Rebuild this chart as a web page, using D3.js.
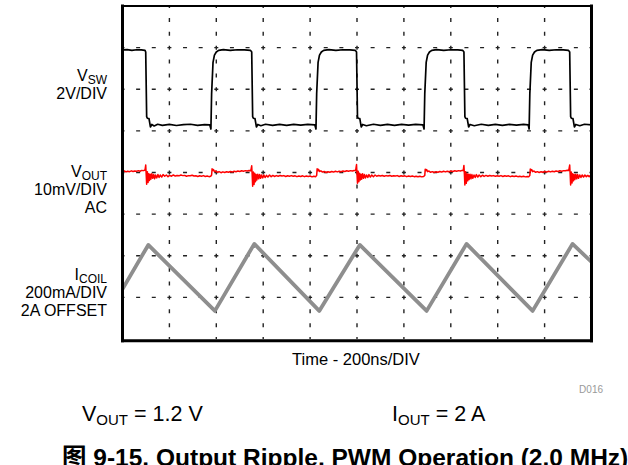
<!DOCTYPE html>
<html><head><meta charset="utf-8">
<script src="https://cdn.jsdelivr.net/npm/d3@7"></script>
<style>body{margin:0;background:#fff}svg{display:block}</style>
</head><body>
<script>
// ---- data ----
const timeGrid = [0, 200, 400, 600, 800, 1000, 1200, 1400, 1600, 1800, 2000]; // ns, 200ns/DIV
const divGrid = [0, 1, 2, 3, 4, 5, 6, 7, 8];
// VSW (V) vs time (ns)
const vswPoints = [
 [0,3.6],[20,3.62],[40,3.58],[60,3.61],[80,3.6],[96,3.58],
 [99,3.5],[103,0.4],[106,0.32],[113,0.3],[119,-0.1],[125,0.02],[135,-0.05],[150,0.03],[170,-0.02],[200,0.02],[230,-0.03],[260,0.01],[290,0.03],[320,-0.02],[350,0.01],[372,0.0],
 [377,-0.2],[380,1.5],[386,3.0],[392,3.35],[400,3.5],[410,3.58],[430,3.62],[460,3.58],[490,3.61],[520,3.6],[546,3.58],
 [551,3.5],[555,0.4],[558,0.32],[565,0.3],[571,-0.1],[577,0.02],[590,-0.04],[610,0.03],[640,-0.02],[670,0.02],[700,-0.02],[730,0.02],[760,-0.01],[790,0.02],[820,0.0],
 [825,-0.2],[828,1.5],[834,3.0],[840,3.35],[848,3.5],[858,3.58],[880,3.62],[910,3.58],[940,3.61],[970,3.6],[993,3.58],
 [998,3.5],[1002,0.4],[1005,0.32],[1012,0.3],[1018,-0.1],[1024,0.02],[1040,-0.04],[1070,0.03],[1100,-0.02],[1130,0.02],[1160,-0.02],[1190,0.02],[1220,-0.01],[1250,0.02],[1281,0.0],
 [1286,-0.2],[1289,1.5],[1295,3.0],[1301,3.35],[1309,3.5],[1319,3.58],[1340,3.62],[1370,3.58],[1400,3.61],[1430,3.6],[1451,3.58],
 [1456,3.5],[1460,0.4],[1463,0.32],[1470,0.3],[1476,-0.1],[1482,0.02],[1500,-0.04],[1530,0.03],[1560,-0.02],[1590,0.02],[1620,-0.02],[1650,0.02],[1680,-0.01],[1710,0.02],[1730,0.0],
 [1734,-0.2],[1737,1.5],[1743,3.0],[1749,3.35],[1757,3.5],[1767,3.58],[1790,3.62],[1820,3.58],[1850,3.61],[1880,3.6],[1902,3.58],
 [1907,3.5],[1911,0.4],[1914,0.32],[1921,0.3],[1927,-0.1],[1933,0.02],[1950,-0.04],[1970,0.03],[2000,0.0]
];
// VOUT AC ripple (mV) vs time (ns)
const voutPoints = [
 [0,0.2],[8,0.35],[15,0.15],[22,0.3],[30,0.2],[38,0.4],[45,0.25],[52,0.35],[60,0.3],[68,0.45],[75,0.3],[82,0.5],[90,0.45],[96,0.6],
 [99,1.8],[101,-0.5],[103,-2.8],[106,0.2],[109,-2.4],[112,-0.3],[115,-1.9],[118,-0.4],[121,-1.6],[125,-0.3],[129,-1.4],[133,-0.5],[137,-1.5],[141,-0.6],[146,-1.3],[151,-0.5],[156,-1.2],[161,-0.6],[167,-1.1],[173,-0.5],[180,-0.9],[187,-0.6],[194,-1.0],[201,-0.7],[209,-0.9],[217,-0.6],[225,-0.85],[233,-0.7],[241,-0.8],[249,-0.6],[257,-0.75],[265,-0.7],[273,-0.9],[281,-0.75],[289,-0.8],[297,-0.65],[305,-0.85],[313,-0.8],[321,-0.95],[329,-0.8],[337,-0.9],[345,-0.75],[353,-0.95],[361,-0.85],[369,-1.0],[376,-0.9],
 [380,-0.6],[382,0.9],[385,0.5],[388,0.7],[392,0.2],[398,0.35],[405,0.05],[412,0.2],[420,-0.05],[428,0.15],[436,0.0],[444,0.2],[452,0.05],[460,0.25],[468,0.1],[476,0.3],[484,0.2],[492,0.35],[500,0.25],[508,0.4],[516,0.3],[524,0.45],[532,0.35],[540,0.5],[547,0.4],
 [551,1.6],[553,-0.6],[555,-3.3],[558,0.1],[561,-2.9],[564,-0.2],[567,-2.2],[570,-0.5],[573,-1.8],[577,-0.4],[581,-1.5],[585,-0.5],[589,-1.4],[593,-0.6],[598,-1.3],[603,-0.6],[608,-1.2],[614,-0.7],[620,-1.1],[627,-0.6],[634,-1.0],[641,-0.7],[648,-0.95],[656,-0.75],[664,-0.9],[672,-0.7],[680,-0.85],[688,-0.75],[696,-0.95],[704,-0.8],[712,-0.9],[720,-0.75],[728,-0.9],[736,-0.8],[744,-1.0],[752,-0.85],[760,-0.95],[768,-0.8],[776,-1.0],[784,-0.85],[792,-0.95],[800,-0.85],[808,-1.05],[816,-0.9],[824,-1.0],
 [828,-0.7],[830,0.9],[833,0.4],[836,0.75],[840,0.25],[846,0.4],[853,0.1],[860,0.25],[868,0.0],[876,0.2],[884,0.05],[892,0.25],[900,0.1],[908,0.3],[916,0.15],[924,0.3],[932,0.2],[940,0.35],[948,0.25],[956,0.4],[964,0.3],[972,0.45],[980,0.35],[988,0.5],[994,0.45],
 [998,1.9],[1000,-0.4],[1002,-2.6],[1005,0.3],[1008,-2.2],[1011,-0.2],[1014,-1.8],[1017,-0.4],[1020,-1.6],[1024,-0.3],[1028,-1.4],[1032,-0.5],[1036,-1.3],[1041,-0.6],[1046,-1.2],[1051,-0.5],[1057,-1.1],[1063,-0.6],[1070,-1.0],[1077,-0.6],[1084,-0.9],[1092,-0.7],[1100,-0.85],[1108,-0.7],[1116,-0.9],[1124,-0.75],[1132,-0.85],[1140,-0.7],[1148,-0.9],[1156,-0.8],[1164,-0.85],[1172,-0.75],[1180,-0.95],[1188,-0.8],[1196,-0.9],[1204,-0.8],[1212,-1.0],[1220,-0.85],[1228,-0.95],[1236,-0.85],[1244,-1.0],[1252,-0.9],[1260,-1.0],[1268,-0.9],[1276,-1.05],[1284,-0.95],
 [1289,-0.7],[1291,0.8],[1294,0.45],[1297,0.7],[1301,0.2],[1307,0.35],[1314,0.05],[1321,0.2],[1329,0.0],[1337,0.2],[1345,0.05],[1353,0.25],[1361,0.1],[1369,0.3],[1377,0.15],[1385,0.3],[1393,0.2],[1401,0.35],[1409,0.25],[1417,0.4],[1425,0.3],[1433,0.45],[1441,0.35],[1448,0.5],[1453,0.45],
 [1456,1.7],[1458,-0.5],[1460,-3.0],[1463,0.2],[1466,-2.6],[1469,-0.3],[1472,-2.0],[1475,-0.4],[1478,-1.7],[1482,-0.4],[1486,-1.5],[1490,-0.5],[1494,-1.4],[1499,-0.6],[1504,-1.2],[1509,-0.5],[1515,-1.1],[1521,-0.6],[1528,-1.0],[1535,-0.65],[1542,-0.95],[1550,-0.7],[1558,-0.9],[1566,-0.7],[1574,-0.85],[1582,-0.75],[1590,-0.9],[1598,-0.8],[1606,-0.9],[1614,-0.75],[1622,-0.95],[1630,-0.8],[1638,-0.9],[1646,-0.8],[1654,-1.0],[1662,-0.85],[1670,-0.95],[1678,-0.85],[1686,-1.0],[1694,-0.9],[1702,-1.0],[1710,-0.9],[1718,-1.05],[1726,-0.95],[1733,-1.0],
 [1737,-0.7],[1739,0.85],[1742,0.45],[1745,0.7],[1749,0.2],[1755,0.35],[1762,0.05],[1769,0.2],[1777,0.0],[1785,0.2],[1793,0.05],[1801,0.25],[1809,0.1],[1817,0.3],[1825,0.15],[1833,0.3],[1841,0.2],[1849,0.35],[1857,0.25],[1865,0.4],[1873,0.3],[1881,0.45],[1889,0.4],[1897,0.55],[1903,0.5],
 [1907,1.8],[1909,-0.5],[1911,-3.0],[1914,0.1],[1917,-2.5],[1920,-0.3],[1923,-2.0],[1926,-0.5],[1929,-1.7],[1933,-0.4],[1937,-1.5],[1941,-0.5],[1945,-1.4],[1950,-0.6],[1955,-1.2],[1960,-0.6],[1966,-1.1],[1972,-0.6],[1978,-1.0],[1984,-0.7],[1990,-1.0],[1995,-0.75],[2000,-0.9]
];
// ICOIL (A) vs time (ns)
const icoilPoints = [
 [0,1.94],[110,2.152],[394,1.835],[562,2.157],[839,1.835],[1012,2.152],[1297,1.835],[1467,2.157],[1749,1.835],[1919,2.157],[2000,2.07]
];
const channelLabels = [
 {main: "V", sub: "SW", lines: ["2V/DIV"]},
 {main: "V", sub: "OUT", lines: ["10mV/DIV", "AC"]},
 {main: "I", sub: "COIL", lines: ["200mA/DIV", "2A OFFSET"]}
];
const axisTitle = "Time - 200ns/DIV";
const figId = "D016";
const conditions = [{main: "V", sub: "OUT", rest: " = 1.2 V"}, {main: "I", sub: "OUT", rest: " = 2 A"}];
const figTitle = "图 9-15. Output Ripple, PWM Operation (2.0 MHz)";

// ---- drawing ----
const W = 628, H = 465;
const FONT = "Arial, 'Liberation Sans', 'Noto Sans CJK SC', sans-serif";
const svg = d3.select("body").append("svg").attr("width", W).attr("height", H)
  .style("font-family", FONT);

const x = d3.scaleLinear().domain([0, 2000]).range([122.5, 591.5]);
const yDiv = d3.scaleLinear().domain([0, 8]).range([339, 6]);
// channel scales (value at screen bottom / top)
const yVsw = d3.scaleLinear().domain([-10.288, 5.712]).range([339, 6]);
const yVout = d3.scaleLinear().domain([-40, 40]).range([339, 6]);
const yIcoil = d3.scaleLinear().domain([1.7, 3.3]).range([339, 6]);

svg.append("clipPath").attr("id", "clip").append("rect")
  .attr("x", x(0)).attr("y", yDiv(8)).attr("width", x(2000) - x(0)).attr("height", yDiv(0) - yDiv(8));

// grid
const hPeriod = (x(200) - x(0)) / 3, vPeriod = (yDiv(0) - yDiv(1)) / 3;
const grid = svg.append("g").attr("stroke", "#222").attr("stroke-width", 1.4);
grid.selectAll("line.v").data(timeGrid.slice(1, -1)).join("line").attr("class", "v")
  .attr("x1", d => x(d)).attr("x2", d => x(d)).attr("y1", yDiv(8)).attr("y2", yDiv(0))
  .attr("stroke-dasharray", `4,${vPeriod - 4}`).attr("stroke-dashoffset", 2);
grid.selectAll("line.h").data(divGrid.slice(1, -1)).join("line").attr("class", "h")
  .attr("y1", d => yDiv(d)).attr("y2", d => yDiv(d)).attr("x1", x(0)).attr("x2", x(2000))
  .attr("stroke-dasharray", `4,${hPeriod - 4}`).attr("stroke-dashoffset", 2);

const traces = svg.append("g").attr("clip-path", "url(#clip)");
traces.append("path").datum(icoilPoints)
  .attr("d", d3.line().x(d => x(d[0])).y(d => yIcoil(d[1])))
  .attr("fill", "none").attr("stroke", "#8e8e8e").attr("stroke-width", 3.8).attr("stroke-linejoin", "round");
traces.append("path").datum(voutPoints)
  .attr("d", d3.line().x(d => x(d[0])).y(d => yVout(d[1])))
  .attr("fill", "none").attr("stroke", "#ff0000").attr("stroke-width", 1.5).attr("stroke-linejoin", "round");
traces.append("path").datum(vswPoints)
  .attr("d", d3.line().x(d => x(d[0])).y(d => yVsw(d[1])))
  .attr("fill", "none").attr("stroke", "#000").attr("stroke-width", 1.7).attr("stroke-linejoin", "round");

// frame (thin top, heavier left / right / bottom)
const fr = svg.append("g").attr("stroke", "#000").attr("stroke-linecap", "square");
fr.append("line").attr("x1", x(0)).attr("x2", x(2000)).attr("y1", yDiv(8)).attr("y2", yDiv(8)).attr("stroke-width", 2);
fr.append("line").attr("x1", x(0)).attr("x2", x(0)).attr("y1", yDiv(8)).attr("y2", yDiv(0) + 1.8).attr("stroke-width", 3);
fr.append("line").attr("x1", x(2000)).attr("x2", x(2000)).attr("y1", yDiv(8)).attr("y2", yDiv(0) + 1.8).attr("stroke-width", 3);
fr.append("line").attr("x1", x(0)).attr("x2", x(2000)).attr("y1", yDiv(0) + 1.8).attr("y2", yDiv(0) + 1.8).attr("stroke-width", 3);

// channel labels
const labelY = [[81, 99], [177, 195, 213], [280, 298, 316]];
channelLabels.forEach((c, i) => {
  const t = svg.append("text").attr("x", 107).attr("y", labelY[i][0]).attr("text-anchor", "end")
    .attr("font-size", 16).attr("fill", "#000");
  t.append("tspan").text(c.main);
  t.append("tspan").attr("font-size", 12).attr("dy", 2.5).text(c.sub);
  c.lines.forEach((l, j) => {
    svg.append("text").attr("x", 107).attr("y", labelY[i][j + 1]).attr("text-anchor", "end")
      .attr("font-size", 16).attr("fill", "#000").text(l);
  });
});

svg.append("text").attr("x", 356).attr("y", 365).attr("text-anchor", "middle")
  .attr("font-size", 16.5).text(axisTitle);
svg.append("text").attr("x", 603).attr("y", 393).attr("text-anchor", "end")
  .attr("font-size", 10).attr("fill", "#999").text(figId);

const condX = [82, 392];
conditions.forEach((c, i) => {
  const t = svg.append("text").attr("x", condX[i]).attr("y", 421).attr("font-size", 21.5);
  t.append("tspan").text(c.main);
  t.append("tspan").attr("font-size", 15).attr("dy", 4).text(c.sub);
  t.append("tspan").attr("dy", -4).text(c.rest);
});

svg.append("text").attr("x", 62).attr("y", 466).attr("font-size", 24.5).attr("font-weight", "bold")
  .text(figTitle);
</script>
</body></html>
